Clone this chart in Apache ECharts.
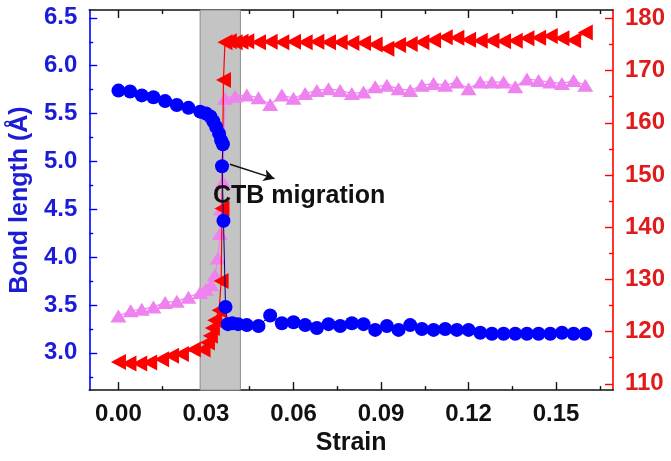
<!DOCTYPE html>
<html>
<head>
<meta charset="utf-8">
<script src="https://cdn.jsdelivr.net/npm/echarts@6/dist/echarts.min.js"></script>
<style>
  html, body { margin: 0; background: #fff; }
  #chart { width: 671px; height: 461px; }
</style>
</head>
<body>
<div id="chart"></div>
<script>
// tick positions
const strainTicks = [0, 0.03, 0.06, 0.09, 0.12, 0.15];
const strainMinor = [0.015, 0.045, 0.075, 0.105, 0.135, 0.165];
const bondTicks = [3.0, 3.5, 4.0, 4.5, 5.0, 5.5, 6.0, 6.5];
const bondMinor = [2.75, 3.25, 3.75, 4.25, 4.75, 5.25, 5.75, 6.25];
const angleTicks = [110, 120, 130, 140, 150, 160, 170, 180];
const angleMinor = [115, 125, 135, 145, 155, 165, 175];

// strain after the migration, shared by the three curves
const lateStrain = [0.056, 0.060, 0.064, 0.068, 0.072, 0.076, 0.080, 0.084, 0.088, 0.092,
  0.096, 0.100, 0.104, 0.108, 0.112, 0.116, 0.120, 0.124, 0.128, 0.132,
  0.136, 0.140, 0.144, 0.148, 0.152, 0.156, 0.160];

// bond length (blue circles, left axis)
const bondStrain = [0, 0.004, 0.008, 0.012, 0.016, 0.020, 0.024, 0.028, 0.030, 0.0315,
  0.0325, 0.0335, 0.0345, 0.0352, 0.0358, 0.0355, 0.036, 0.0367, 0.0375, 0.039,
  0.041, 0.044, 0.048, 0.052, ...lateStrain];
const bondLength = [5.74, 5.73, 5.69, 5.67, 5.63, 5.59, 5.56, 5.52, 5.50, 5.47,
  5.42, 5.36, 5.29, 5.22, 5.18, 4.95, 4.38, 3.48, 3.30, 3.31,
  3.30, 3.29, 3.28, 3.39,
  3.31, 3.32, 3.29, 3.26, 3.30, 3.28, 3.31, 3.30, 3.24, 3.28,
  3.24, 3.29, 3.25, 3.24, 3.25, 3.24, 3.24, 3.21, 3.20, 3.20,
  3.20, 3.20, 3.20, 3.20, 3.21, 3.20, 3.20];

// red left triangles, right axis
const redStrain = [0, 0.0036, 0.0073, 0.0107, 0.0148, 0.0182, 0.0216, 0.0257, 0.029, 0.0305,
  0.0315, 0.0322, 0.033, 0.0345, 0.0352, 0.0355, 0.036, 0.0365, 0.038, 0.040,
  0.042, 0.044, 0.048, 0.052, ...lateStrain];
const redAngle = [114.2, 113.9, 113.9, 114.1, 114.7, 115.4, 115.7, 116.6, 116.6, 117.9,
  119.2, 120.7, 122.2, 124.1, 129.7, 143.6, 168.2, 175.4, 175.6, 175.4,
  175.5, 175.6, 175.4, 175.5,
  175.4, 175.5, 175.4, 175.5, 175.4, 175.4, 175.3, 175.3, 175.0, 174.2,
  174.9, 175.1, 175.4, 175.8, 176.4, 176.3, 175.9, 175.7, 175.7, 175.6,
  175.7, 176.2, 176.3, 176.6, 176.2, 175.8, 177.3];

// pink up triangles, right axis
const pinkStrain = [0, 0.0042, 0.008, 0.012, 0.016, 0.020, 0.024, 0.028, 0.030, 0.0318,
  0.0331, 0.0341, 0.0348, 0.0352, 0.0358, 0.0365, 0.040, 0.044, 0.048, 0.052, ...lateStrain];
const pinkAngle = [123.0, 124.0, 124.3, 124.7, 125.6, 125.8, 126.6, 127.5, 128.1, 129.0,
  130.9, 134.1, 138.8, 143.5, 148.7, 164.7, 165.1, 165.3, 164.8, 163.5,
  165.3, 164.7, 165.6, 166.2, 166.5, 166.2, 165.6, 165.9, 166.9, 167.2,
  166.5, 166.2, 167.2, 167.5, 167.2, 167.8, 166.5, 167.8, 167.8, 167.8,
  166.9, 168.4, 168.1, 167.8, 167.5, 168.1, 167.2];

const migrationBand = [0.028, 0.0418];

const FONT = "'Liberation Sans', Arial, sans-serif";
const BLUE = "#0000ff";
const BLUE_TEXT = "#1c1cd8";
const RED = "#ff0000";
const RED_TEXT = "#e01b1b";
const PINK = "#ee82ee";

const pairs = (xs, ys) => xs.map((x, i) => [x, ys[i]]);

function tickAxis(base, values, len, color, showLine) {
  return Object.assign({
    type: "value",
    splitLine: { show: false },
    axisLine: { show: showLine, onZero: false, lineStyle: { color, width: 1.6 } },
    axisTick: { show: true, inside: true, length: len, customValues: values, lineStyle: { color, width: 1.4 } },
    axisLabel: { show: false },
  }, base);
}

const xRange = { min: -0.01, max: 0.1695 };
const bondRange = { min: 2.611, max: 6.582 };
const angleRange = { min: 108.8, max: 181.6 };

const chart = echarts.init(document.getElementById("chart"));

chart.setOption({
  animation: false,
  backgroundColor: "#fff",
  grid: { left: 85, right: 58, top: 10, bottom: 63 },
  xAxis: [
    tickAxis({
      ...xRange, position: "bottom",
      name: "Strain", nameLocation: "middle", nameGap: 37,
      nameTextStyle: { fontFamily: FONT, fontWeight: "bold", fontSize: 25, color: "#111" },
      axisLabel: {
        show: true, customValues: strainTicks, margin: 12,
        fontFamily: FONT, fontWeight: "bold", fontSize: 24, color: "#111",
        formatter: (v) => v.toFixed(2),
      },
    }, strainTicks, 8, "#111", true),
    tickAxis({ ...xRange, position: "bottom" }, strainMinor, 4, "#111", false),
    tickAxis({ ...xRange, position: "top" }, strainTicks, 8, "#111", true),
    tickAxis({ ...xRange, position: "top" }, strainMinor, 4, "#111", false),
  ],
  yAxis: [
    tickAxis({
      ...bondRange, position: "left",
      name: "Bond length (Å)", nameLocation: "middle", nameGap: 55,
      nameTextStyle: { fontFamily: FONT, fontWeight: "bold", fontSize: 25, color: BLUE_TEXT },
      axisLabel: {
        show: true, customValues: bondTicks, margin: 12,
        fontFamily: FONT, fontWeight: "bold", fontSize: 24, color: BLUE_TEXT,
        formatter: (v) => v.toFixed(1),
      },
    }, bondTicks, 8, BLUE, true),
    tickAxis({ ...bondRange, position: "left" }, bondMinor, 4, BLUE, false),
    tickAxis({
      ...angleRange, position: "right",
      axisLabel: {
        show: true, customValues: angleTicks, margin: 12,
        fontFamily: FONT, fontWeight: "bold", fontSize: 24, color: RED_TEXT,
      },
    }, angleTicks, 8, RED, true),
    tickAxis({ ...angleRange, position: "right" }, angleMinor, 4, RED, false),
  ],
  graphic: [
    {
      type: "text", left: 213, top: 184, z: 10,
      style: { text: "CTB migration", font: `bold 25px ${FONT}`, fill: "#111" },
    },
  ],
  series: [
    {
      name: "band", type: "line", data: [], z: 1,
      markArea: {
        silent: true,
        itemStyle: { color: "#c4c4c4", borderColor: "#8c8c8c", borderWidth: 1 },
        data: [[{ xAxis: migrationBand[0] }, { xAxis: migrationBand[1] }]],
      },
    },
    {
      name: "pink", type: "line", xAxisIndex: 0, yAxisIndex: 2, z: 3,
      data: pairs(pinkStrain, pinkAngle),
      symbol: "triangle", symbolSize: [16, 13],
      itemStyle: { color: PINK },
      lineStyle: { color: PINK, width: 1.2 },
    },
    {
      name: "red", type: "line", xAxisIndex: 0, yAxisIndex: 2, z: 4,
      data: pairs(redStrain, redAngle),
      symbol: "triangle", symbolSize: [16, 15], symbolRotate: 90,
      itemStyle: { color: RED },
      lineStyle: { color: RED, width: 1.2 },
    },
    {
      name: "bond", type: "line", xAxisIndex: 0, yAxisIndex: 0, z: 5,
      data: pairs(bondStrain, bondLength),
      symbol: "circle", symbolSize: 14,
      itemStyle: { color: BLUE },
      lineStyle: { color: "#000080", width: 1 },
      markLine: {
        silent: true,
        symbol: ["none", "arrow"], symbolSize: [9, 11],
        label: { show: false },
        lineStyle: { color: "#111", width: 1.5, type: "solid" },
        data: [[{ coord: [0.0382, 4.97] }, { coord: [0.0535, 4.82] }]],
      },
    },
  ],
});
</script>
</body>
</html>
